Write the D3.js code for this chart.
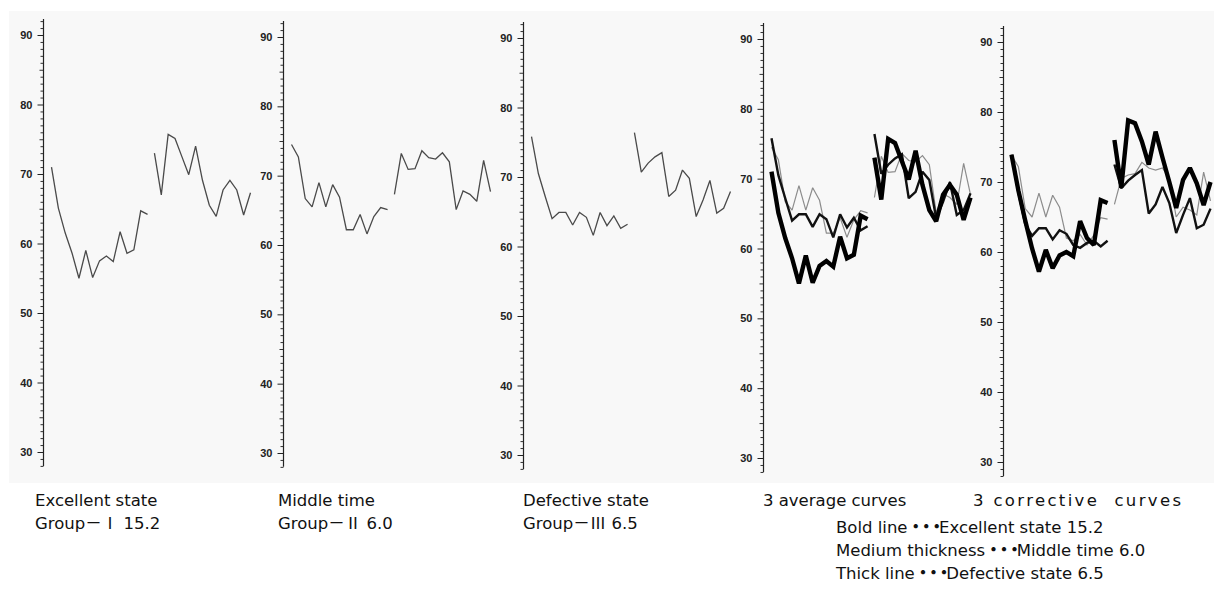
<!DOCTYPE html>
<html>
<head>
<meta charset="utf-8">
<script src="https://cdn.jsdelivr.net/npm/d3@7"></script>
<style>
  body { margin: 0; background: #fff; }
  .lab { font-family: "DejaVu Sans", "Noto Sans CJK JP", sans-serif; font-size: 16.5px; fill: #111; white-space: pre; }
  .cjk { font-family: "Noto Sans CJK JP", sans-serif; }
  .dots { font-family: "Noto Sans CJK JP", sans-serif; font-weight: bold; letter-spacing: -6px; }
  .tk text { font-family: "Liberation Sans", Arial, sans-serif; font-size: 11px; font-weight: bold; fill: #222; }
</style>
</head>
<body>
<script>
// values, 15 points per half
var excellentA = [71.0, 65.1, 61.5, 58.6, 55.0, 59.0, 55.1, 57.5, 58.2, 57.4, 61.7, 58.6, 59.1, 64.7, 64.2];
var excellentB = [73.0, 67.0, 75.7, 75.1, 72.5, 69.9, 74.0, 69.1, 65.5, 63.9, 67.7, 69.1, 67.7, 64.1, 67.3];
var middleA = [74.5, 72.7, 66.7, 65.5, 69.0, 65.5, 68.7, 66.9, 62.2, 62.2, 64.4, 61.6, 64.1, 65.4, 65.1];
var middleB = [67.3, 73.2, 70.9, 71.0, 73.6, 72.6, 72.4, 73.3, 72.0, 65.1, 67.8, 67.3, 66.3, 72.2, 67.7];
var defectiveA = [75.8, 70.5, 67.2, 64.0, 64.9, 64.9, 63.1, 64.9, 64.2, 61.6, 64.9, 63.0, 64.4, 62.6, 63.2];
var defectiveB = [76.4, 70.7, 72.0, 72.9, 73.5, 67.2, 68.1, 71.0, 69.8, 64.3, 66.7, 69.5, 64.8, 65.5, 67.9];

// corrective curves (last panel)
var corrBoldA = [73.9, 68.8, 64.5, 60.5, 57.2, 60.3, 57.7, 59.5, 60.0, 59.4, 64.4, 62.0, 61.0, 67.4, 67.0];
var corrBoldB = [76.0, 69.2, 78.8, 78.4, 75.8, 72.5, 77.2, 73.5, 70.0, 66.3, 70.3, 72.0, 69.8, 66.7, 70.0];
var corrMedA = [73.9, 68.5, 64.0, 62.3, 63.4, 63.4, 61.8, 63.1, 62.6, 61.0, 60.6, 61.3, 61.6, 60.8, 61.6];
var corrMedB = [72.5, 69.1, 70.2, 71.0, 71.7, 65.5, 66.8, 69.3, 67.0, 62.7, 65.3, 67.7, 63.4, 63.9, 66.2];
var corrThinA = [73.8, 72.2, 66.2, 65.0, 68.4, 65.0, 68.1, 66.4, 62.0, 61.6, 62.5, 61.0, 62.4, 64.9, 64.7];
var corrThinB = [66.8, 70.5, 71.0, 71.2, 72.8, 72.0, 71.7, 72.0, 70.5, 65.0, 66.4, 66.0, 65.3, 71.4, 67.3];

var majorTicks = [30, 40, 50, 60, 70, 80, 90];

var captions = [
  ["Excellent state", "Group\uFF0D\u2160 15.2"],
  ["Middle time", "Group\uFF0D\u2161 6.0"],
  ["Defective state", "Group\uFF0D\u2162 6.5"],
  ["3 average curves"],
  ["3 corrective  curves"]
];
var legendLines = [
  "Bold line\u30FB\u30FB\u30FBExcellent state 15.2",
  "Medium thickness\u30FB\u30FB\u30FBMiddle time 6.0",
  "Thick line\u30FB\u30FB\u30FBDefective state 6.5"
];

// the scan is slightly tilted, so each panel has its own axis placement
var axisX = [43.5, 283.5, 523.5, 763.5, 1003.5];
var y90 = [35, 37, 38, 39, 42];
var y30 = [452, 453, 455, 458, 462];

var thin1 = {color: '#4a4a4a', width: 1.3};
var thin = {color: '#8c8c8c', width: 1.2};
var med = {color: '#111', width: 2.4};
var bold = {color: '#000', width: 4.4};

var panels = [
  [{a: excellentA, b: excellentB, s: thin1}],
  [{a: middleA, b: middleB, s: thin1}],
  [{a: defectiveA, b: defectiveB, s: thin1}],
  [{a: middleA, b: middleB, s: thin}, {a: defectiveA, b: defectiveB, s: med}, {a: excellentA, b: excellentB, s: bold}],
  [{a: corrThinA, b: corrThinB, s: thin}, {a: corrMedA, b: corrMedB, s: med}, {a: corrBoldA, b: corrBoldB, s: bold}]
];

var svg = d3.select('body').append('svg').attr('width', 1214).attr('height', 590);

svg.append('rect').attr('x', 9).attr('y', 11).attr('width', 1205).attr('height', 472).attr('fill', '#f8f8f8');

panels.forEach(function (series, i) {
  var y = d3.scaleLinear().domain([30, 90]).range([y30[i], y90[i]]);
  var x = d3.scaleLinear().domain([0, 29]).range([axisX[i] + 8, axisX[i] + 207]);
  var g = svg.append('g');

  // minor ticks every unit, a bit longer at fives
  var minor = g.append('g').attr('class', 'tk').attr('transform', 'translate(' + axisX[i] + ',0)')
    .call(d3.axisLeft(y).tickValues(d3.range(28, 93, 1).filter(function (v) { return v % 10; }))
      .tickSize(3).tickFormat(''));
  minor.select('.domain').remove();
  minor.selectAll('line').attr('stroke', '#333')
    .attr('x2', function (d) { return d % 5 === 0 ? -4 : -3; });

  var major = g.append('g').attr('class', 'tk').attr('transform', 'translate(' + axisX[i] + ',0)')
    .call(d3.axisLeft(y).tickValues(majorTicks).tickSize(6).tickPadding(5));
  major.select('.domain').remove();
  major.selectAll('line').attr('stroke', '#222');

  g.append('line')
    .attr('x1', axisX[i]).attr('x2', axisX[i])
    .attr('y1', y(92.3)).attr('y2', y(28))
    .attr('stroke', '#222').attr('stroke-width', 1.2);

  series.forEach(function (sr) {
    [[sr.a, 0], [sr.b, 15]].forEach(function (part) {
      var line = d3.line()
        .x(function (d, j) { return x(j + part[1]); })
        .y(function (d) { return y(d); });
      g.append('path')
        .attr('d', line(part[0]))
        .attr('fill', 'none')
        .attr('stroke', sr.s.color)
        .attr('stroke-width', sr.s.width)
        .attr('stroke-linejoin', 'miter')
        .attr('stroke-miterlimit', 2);
    });
  });
});

// full-width dashes, roman numerals and dots come from the CJK font
function addText(t, x, y) {
  var el = svg.append('text').attr('class', 'lab').attr('x', x).attr('y', y);
  t.split(/([\uFF0D\u2160-\u2162\u30FB]+)/).forEach(function (piece) {
    if (!piece) return;
    var sp = el.append('tspan').text(piece);
    if (/\u30FB/.test(piece)) sp.attr('class', 'dots');
    else if (/[\uFF0D\u2160-\u2162]/.test(piece)) sp.attr('class', 'cjk');
  });
  return el;
}

var capX = [35, 278, 523, 763, 973];
captions.forEach(function (c, i) {
  c.forEach(function (t, k) {
    var el = addText(t, capX[i], 506 + k * 23);
    if (i === 4) el.attr('textLength', 208).attr('lengthAdjust', 'spacing');
  });
});

legendLines.forEach(function (t, k) {
  addText(t, 836, 533 + k * 23);
});
</script>
</body>
</html>
